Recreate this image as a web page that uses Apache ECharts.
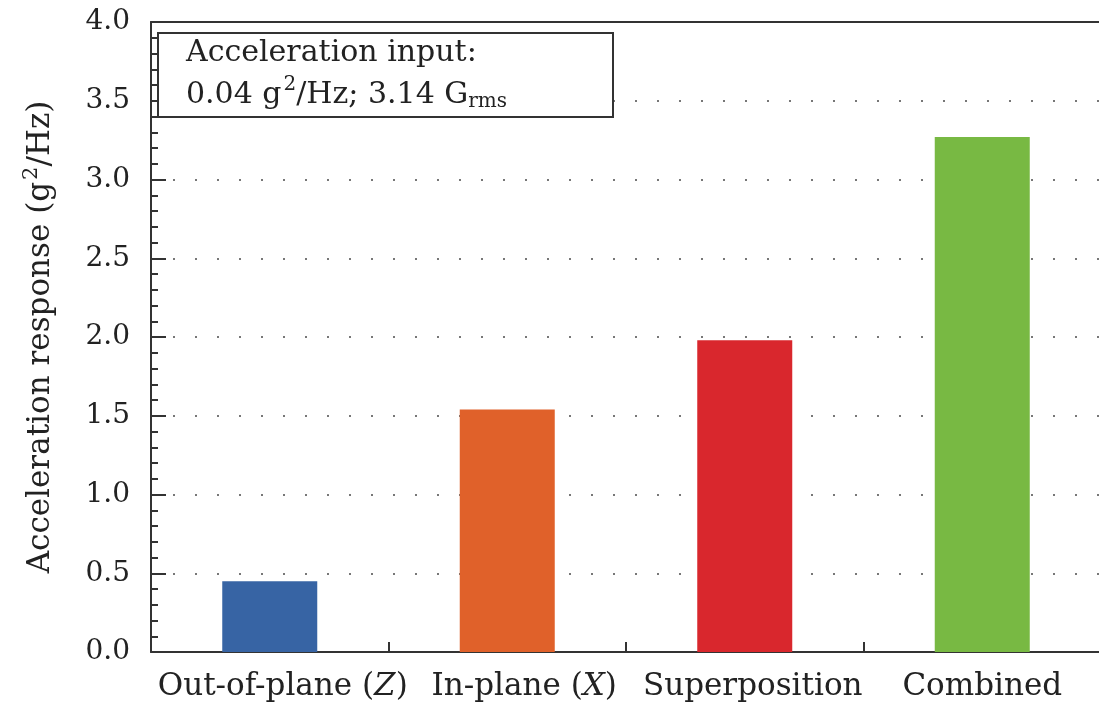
<!DOCTYPE html>
<html>
<head>
<meta charset="utf-8">
<script src="https://cdn.jsdelivr.net/npm/echarts@6/dist/echarts.min.js"></script>
<style>html,body{margin:0;padding:0;background:#fff;}#c{width:1099px;height:713px;}</style>
</head>
<body>
<div id="c"></div>
<script>
const categories = ['Out-of-plane (Z)', 'In-plane (X)', 'Superposition', 'Combined'];
const values = [0.45, 1.54, 1.98, 3.27];
const barColors = ['#3764a4', '#e0612a', '#d9272d', '#78b943'];
const yTicks = [0, 0.5, 1.0, 1.5, 2.0, 2.5, 3.0, 3.5, 4.0];

const FONT = '"DejaVu Serif", "Liberation Serif", serif';
const TXT = '#222';
// small horizontal nudges of the category labels (px), as in the reference
const labelShift = [13, 17, 8, 0];

const chart = echarts.init(document.getElementById('c'));
const catRich = {
  a: { fontFamily: FONT, fontSize: 31, color: TXT },
  i: { fontFamily: FONT, fontSize: 31, color: TXT, fontStyle: 'italic' }
};
function catFmt(v) {
  const m = v.match(/^(.*\()([A-Z])(\))$/);
  if (m) return '{a|' + m[1] + '}{i|' + m[2] + '}{a|' + m[3] + '}';
  return '{a|' + v + '}';
}
const catData = categories.map((c, i) => ({
  value: c,
  textStyle: { padding: [0, 0, 0, labelShift[i] * 2] }
}));
chart.setOption({
  animation: false,
  backgroundColor: '#fff',
  title: {
    left: 158, top: 27,
    text: '{t|Acceleration input:}\n{t|0.04 g}{sup|2}{t|/Hz; 3.14 G}{sub|rms}',
    padding: [5, 106, 2, 28],
    borderColor: '#333', borderWidth: 2, backgroundColor: '#fff',
    textStyle: {
      fontWeight: 'normal',
      rich: {
        t: { fontFamily: FONT, fontSize: 30, fontWeight: 'normal', color: TXT, lineHeight: 42 },
        sup: { fontFamily: FONT, fontSize: 20, fontWeight: 'normal', color: TXT, padding: [0, 0, 20, 2], lineHeight: 42 },
        sub: { fontFamily: FONT, fontSize: 20, fontWeight: 'normal', color: TXT, padding: [14, 0, 0, 0], lineHeight: 42 }
      }
    },
    z: 10
  },
  grid: { left: 151, right: -2, top: 22, bottom: 61, containLabel: false, outerBoundsMode: 'none' },
  xAxis: [{
    type: 'category', data: catData,
    axisLine: { show: true, lineStyle: { color: '#333', width: 2 } },
    axisTick: { show: true, inside: true, length: 10, lineStyle: { color: '#333', width: 2 } },
    axisLabel: { formatter: catFmt, rich: catRich, margin: 19 }
  }, {
    type: 'category', data: categories, position: 'top',
    axisLine: { show: true, lineStyle: { color: '#333', width: 2 } },
    axisTick: { show: false }, axisLabel: { show: false }
  }],
  yAxis: {
    type: 'value', min: yTicks[0], max: yTicks[yTicks.length - 1], interval: 0.5,
    name: '{n|Acceleration response (g}{sup|2}{n|/Hz)}',
    nameLocation: 'middle', nameGap: 91, nameRotate: 90,
    nameTextStyle: {
      rich: {
        n: { fontFamily: FONT, fontSize: 31, color: TXT },
        sup: { fontFamily: FONT, fontSize: 21, color: TXT, padding: [0, 0, 18, 2] }
      }
    },
    axisLine: { show: true, lineStyle: { color: '#333', width: 2 } },
    axisTick: { show: true, inside: true, length: 15, lineStyle: { color: '#333', width: 2 } },
    minorTick: { show: true, splitNumber: 5, length: 7, lineStyle: { color: '#333', width: 2 } },
    axisLabel: { fontFamily: FONT, fontSize: 28, color: TXT, margin: 21, formatter: v => v.toFixed(1) },
    splitLine: { show: true, lineStyle: { color: '#777', width: 2, type: [2, 20] } }
  },
  series: [{
    type: 'bar', barWidth: 95,
    data: values.map((v, i) => ({ value: v, itemStyle: { color: barColors[i] } }))
  }]
});
</script>
</body>
</html>
